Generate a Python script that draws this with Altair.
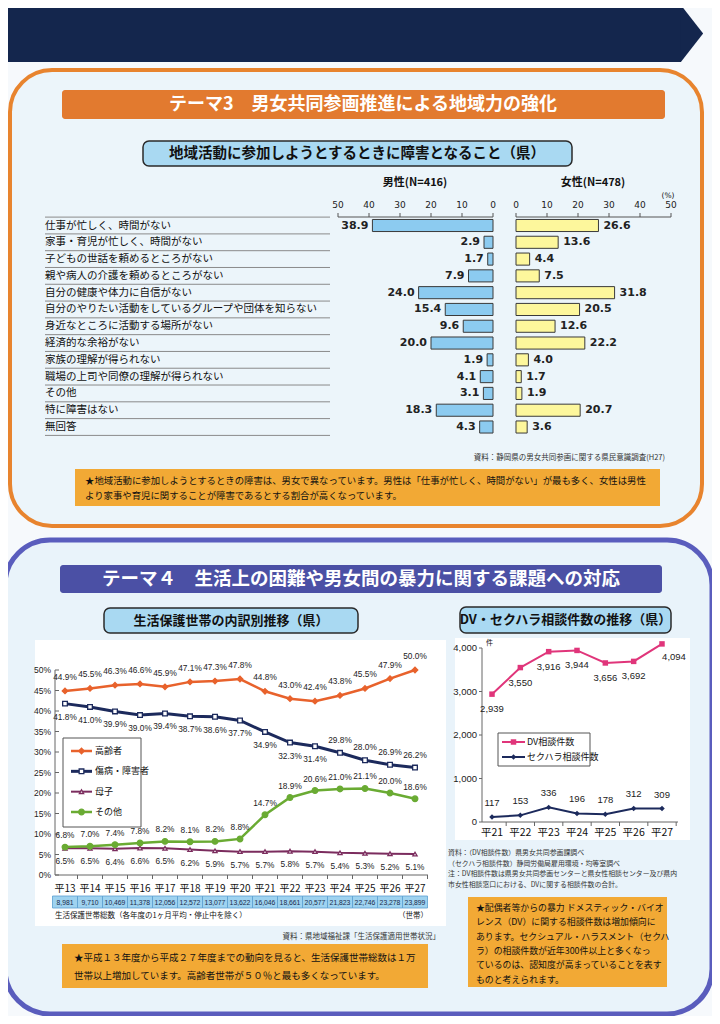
import altair as alt
import pandas as pd

# ---------------- data ----------------
categories = [
    "仕事が忙しく、時間がない",
    "家事・育児が忙しく、時間がない",
    "子どもの世話を頼めるところがない",
    "親や病人の介護を頼めるところがない",
    "自分の健康や体力に自信がない",
    "自分のやりたい活動をしているグループや団体を知らない",
    "身近なところに活動する場所がない",
    "経済的な余裕がない",
    "家族の理解が得られない",
    "職場の上司や同僚の理解が得られない",
    "その他",
    "特に障害はない",
    "無回答",
]
male = [38.9, 2.9, 1.7, 7.9, 24.0, 15.4, 9.6, 20.0, 1.9, 4.1, 3.1, 18.3, 4.3]
female = [26.6, 13.6, 4.4, 7.5, 31.8, 20.5, 12.6, 22.2, 4.0, 1.7, 1.9, 20.7, 3.6]
pct_axis_ticks = [0, 10, 20, 30, 40, 50]

years = ["平13", "平14", "平15", "平16", "平17", "平18", "平19", "平20",
         "平21", "平22", "平23", "平24", "平25", "平26", "平27"]
elderly = [44.9, 45.5, 46.3, 46.6, 45.9, 47.1, 47.3, 47.8, 44.8, 43.0, 42.4, 43.8, 45.5, 47.9, 50.0]
disabled = [41.8, 41.0, 39.9, 39.0, 39.4, 38.7, 38.6, 37.7, 34.9, 32.3, 31.4, 29.8, 28.0, 26.9, 26.2]
single_mother = [6.5, 6.5, 6.4, 6.6, 6.5, 6.2, 5.9, 5.7, 5.7, 5.8, 5.7, 5.4, 5.3, 5.2, 5.1]
others = [6.8, 7.0, 7.4, 7.8, 8.2, 8.1, 8.2, 8.8, 14.7, 18.9, 20.6, 21.0, 21.1, 20.0, 18.6]
households = [8981, 9710, 10469, 11378, 12056, 12572, 13077, 13622, 16046, 18661,
              20577, 21823, 22746, 23278, 23899]
welfare_series = ["高齢者", "傷病・障害者", "母子", "その他"]
pct_ticks = [0, 5, 10, 15, 20, 25, 30, 35, 40, 45, 50]

consult_years = ["平21", "平22", "平23", "平24", "平25", "平26", "平27"]
dv_counts = [2939, 3550, 3916, 3944, 3656, 3692, 4094]
sh_counts = [117, 153, 336, 196, 178, 312, 309]
consult_series = ["DV相談件数", "セクハラ相談件数"]
count_ticks = [0, 1000, 2000, 3000, 4000]

# ---------------- helpers ----------------
def X(v):
    return v - 8


def Y(v):
    return v - 8


JP = "Noto Sans CJK JP"
NUM = "DejaVu Sans"
NARROW = "Liberation Sans"
ONE = pd.DataFrame({"o": [0]})
layers = []


def rect(x1, y1, x2, y2, **kw):
    layers.append(alt.Chart(ONE).mark_rect(**kw).encode(
        x=alt.value(X(x1)), x2=alt.value(X(x2)), y=alt.value(Y(y1)), y2=alt.value(Y(y2))))


def text(t, x, y, **kw):
    kw.setdefault("font", JP)
    kw.setdefault("fill", "#111")
    layers.append(alt.Chart(ONE).mark_text(text=t, **kw).encode(
        x=alt.value(X(x)), y=alt.value(Y(y))))


# ---------------- decorations: banner & theme 3 ----------------
NAVY = "#14264d"
rect(0, 5, 681, 62, fill=NAVY)
layers.append(alt.Chart(ONE).mark_point(
    shape="M-0.39,-1L0.39,0L-0.39,1Z", filled=True, color=NAVY, opacity=1, size=3249
).encode(x=alt.value(X(692)), y=alt.value(Y(33.5))))

rect(10, 70, 702, 526, fill="#ecf5fa", stroke="#e8842e", strokeWidth=4, cornerRadius=42)
rect(62, 90, 665, 119, fill="#e27a2f", cornerRadius=3)
text("テーマ3　男女共同参画推進による地域力の強化", 363, 105, fontSize=18,
     fontWeight="bold", fill="white")
rect(143, 141, 572, 166, fill="#a9d9f2", stroke="#2a2a2a", strokeWidth=1.5, cornerRadius=6)
text("地域活動に参加しようとするときに障害となること（県）", 357, 154, fontSize=14.5,
     fontWeight="bold")

# ---------------- butterfly chart ----------------
bf = pd.DataFrame({"cat": categories, "m": male, "f": female, "i": list(range(len(categories)))})
tk = pd.DataFrame({"t": pct_axis_ticks})
s_male = alt.Scale(domain=[0, 50], range=[X(493), X(338)], nice=False, zero=False)
s_fem = alt.Scale(domain=[0, 50], range=[X(516), X(671)], nice=False, zero=False)
s_row = alt.Scale(domain=[0, 12], range=[Y(225.5), Y(427)], nice=False, zero=False)

text("男性(N=416)", 415, 183, fontSize=11, fontWeight="bold")
text("女性(N=478)", 593, 183, fontSize=11, fontWeight="bold")
text("(%)", 668, 196, fontSize=7.5, font=NUM)

layers.append(alt.Chart(bf).transform_calculate(b="datum.i + 0.5").mark_rule(
    color="#8a8a8a", strokeWidth=1).encode(
    x=alt.value(X(45)), x2=alt.value(X(330)), y=alt.Y("b:Q", scale=s_row, axis=None)))
layers.append(alt.Chart(ONE).mark_rule(color="#8a8a8a", strokeWidth=1).encode(
    x=alt.value(X(45)), x2=alt.value(X(330)), y=alt.Y(datum=-0.5, scale=s_row, axis=None)))
layers.append(alt.Chart(bf).mark_text(align="left", font=JP, fontSize=10.5, fill="#111").encode(
    x=alt.value(X(45)), y=alt.Y("i:Q", scale=s_row, axis=None), text="cat:N"))

for col, sc, fill, align, dx in [("m", s_male, "#8ccbf0", "right", -4),
                                 ("f", s_fem, "#fdf79c", "left", 5)]:
    layers.append(alt.Chart(bf).transform_calculate(
        y0="datum.i - 0.36", y1="datum.i + 0.36").mark_rect(
        fill=fill, stroke="#3a3a3a", strokeWidth=1).encode(
        x=alt.X(f"{col}:Q", scale=sc, axis=None), x2=alt.datum(0),
        y=alt.Y("y0:Q", scale=s_row, axis=None), y2="y1:Q"))
    layers.append(alt.Chart(bf).mark_text(
        align=align, dx=dx, font=NUM, fontWeight="bold", fontSize=11, fill="#222").encode(
        x=alt.X(f"{col}:Q", scale=sc, axis=None), y=alt.Y("i:Q", scale=s_row, axis=None),
        text=alt.Text(f"{col}:Q", format=".1f")))
    layers.append(alt.Chart(ONE).mark_rule(color="#555", strokeWidth=1).encode(
        x=alt.X(datum=0, scale=sc, axis=None), x2=alt.datum(50), y=alt.value(Y(217))))
    layers.append(alt.Chart(tk).mark_rule(color="#555", strokeWidth=1).encode(
        x=alt.X("t:Q", scale=sc, axis=None), y=alt.value(Y(213)), y2=alt.value(Y(217))))
    layers.append(alt.Chart(tk).mark_text(font=NUM, fontSize=9, fill="#222").encode(
        x=alt.X("t:Q", scale=sc, axis=None), y=alt.value(Y(205)), text="t:Q"))

text("資料：静岡県の男女共同参画に関する県民意識調査(H27)", 665, 458, align="right",
     fontSize=7.5, fill="#333")
rect(75, 469, 660, 506, fill="#f2a935")
text("★地域活動に参加しようとするときの障害は、男女で異なっています。男性は「仕事が忙しく、時間がない」が最も多く、女性は男性",
     85, 481, align="left", fontSize=9.4)
text("より家事や育児に関することが障害であるとする割合が高くなっています。",
     85, 496, align="left", fontSize=9.4)

# ---------------- theme 4 ----------------
rect(5, 540, 712, 1014, fill="#e9f3fa", stroke="#5a5dbd", strokeWidth=5, cornerRadius=45)
rect(60, 565, 662, 593, fill="#4b50a5", cornerRadius=3)
text("テーマ４　生活上の困難や男女間の暴力に関する課題への対応", 361, 579, fontSize=18.5,
     fontWeight="bold", fill="white")
rect(104, 608, 358, 633, fill="#a9d9f2", stroke="#2a2a2a", strokeWidth=1.5, cornerRadius=6)
text("生活保護世帯の内訳別推移（県）", 231, 620.5, fontSize=13, fontWeight="bold")
rect(460, 607, 671, 633, fill="#a9d9f2", stroke="#2a2a2a", strokeWidth=1.5, cornerRadius=6)
text("DV・セクハラ相談件数の推移（県）", 565.5, 620, fontSize=13, fontWeight="bold")

rect(35, 640, 446, 926, fill="white")
rect(455, 638, 690, 840, fill="white")

# ---------------- welfare chart ----------------
s_wx = alt.Scale(domain=[0, len(years) - 1], range=[X(65), X(415)], nice=False, zero=False)
s_wy = alt.Scale(domain=[0, 50], range=[Y(875), Y(670)], nice=False, zero=False)
yr = pd.DataFrame({"j": list(range(len(years))), "yr": years, "n": households})
pt = pd.DataFrame({"t": pct_ticks})

layers.append(alt.Chart(ONE).mark_rule(color="#666", strokeWidth=1).encode(
    x=alt.value(X(55)), y=alt.Y(datum=0, scale=s_wy, axis=None), y2=alt.datum(50)))
layers.append(alt.Chart(pt).mark_rule(color="#666", strokeWidth=1).encode(
    x=alt.value(X(55)), x2=alt.value(X(59)), y=alt.Y("t:Q", scale=s_wy, axis=None)))
layers.append(alt.Chart(pt).transform_calculate(lbl="datum.t + '%'").mark_text(
    align="right", font=NARROW, fontSize=8.5, fill="#222").encode(
    x=alt.value(X(51)), y=alt.Y("t:Q", scale=s_wy, axis=None), text="lbl:N"))
layers.append(alt.Chart(ONE).mark_rule(color="#666", strokeWidth=1).encode(
    x=alt.value(X(55)), x2=alt.value(X(428)), y=alt.Y(datum=0, scale=s_wy, axis=None)))
layers.append(alt.Chart(yr).transform_calculate(b="datum.j + 0.5").mark_rule(
    color="#666", strokeWidth=1).encode(
    x=alt.X("b:Q", scale=s_wx, axis=None), y=alt.value(Y(875)), y2=alt.value(Y(879))))
layers.append(alt.Chart(yr).mark_text(font=JP, fontSize=10, fill="#111").encode(
    x=alt.X("j:Q", scale=s_wx, axis=None), y=alt.value(Y(889)), text="yr:N"))
layers.append(alt.Chart(yr).transform_calculate(a="datum.j - 0.5", b="datum.j + 0.5").mark_rect(
    fill="#9fd3f0", stroke="#5a9fd0", strokeWidth=0.8).encode(
    x=alt.X("a:Q", scale=s_wx, axis=None), x2="b:Q", y=alt.value(Y(896)), y2=alt.value(Y(908))))
layers.append(alt.Chart(yr).transform_calculate(lbl="format(datum.n, ',')").mark_text(
    font=NARROW, fontSize=6.8, fill="#1a2a4a").encode(
    x=alt.X("j:Q", scale=s_wx, axis=None), y=alt.value(Y(902.5)), text="lbl:N"))
text("生活保護世帯総数（各年度の1ヶ月平均・停止中を除く）", 55, 916, align="left", fontSize=7.5)
text("（世帯）", 428, 916, align="right", fontSize=7.5)

w_cfg = [
    (welfare_series[0], elderly, "#e8622c", "diamond", True, 2.5, 30),
    (welfare_series[1], disabled, "#1c2a5c", "square", False, 3, 22),
    (welfare_series[2], single_mother, "#7b2c5e", "triangle-up", False, 2, 18),
    (welfare_series[3], others, "#6aab33", "circle", True, 2.5, 32),
]
lab_kw = dict(font=NARROW, fontSize=8.3, fill="#222")
for name, vals, color, shape, filled, lw, sz in w_cfg:
    df = pd.DataFrame({"j": list(range(len(vals))), "v": vals})
    enc = dict(x=alt.X("j:Q", scale=s_wx, axis=None), y=alt.Y("v:Q", scale=s_wy, axis=None))
    layers.append(alt.Chart(df).mark_line(color=color, strokeWidth=lw).encode(**enc))
    layers.append(alt.Chart(df).mark_point(
        shape=shape, size=sz, filled=True, opacity=1,
        fill=color if filled else "white", stroke=color, strokeWidth=1.3).encode(**enc))
    lab = alt.Chart(df).transform_calculate(lbl="format(datum.v, '.1f') + '%'")
    if name == welfare_series[0]:
        layers.append(lab.mark_text(dy=-13, **lab_kw).encode(text="lbl:N", **enc))
    elif name == welfare_series[1]:
        layers.append(lab.transform_filter("datum.j < 11").mark_text(dy=14, **lab_kw).encode(
            text="lbl:N", **enc))
        layers.append(lab.transform_filter("datum.j >= 11").mark_text(dy=-12, **lab_kw).encode(
            text="lbl:N", **enc))
    elif name == welfare_series[2]:
        layers.append(lab.mark_text(dy=14, **lab_kw).encode(text="lbl:N", **enc))
    else:
        layers.append(lab.mark_text(dy=-11, **lab_kw).encode(text="lbl:N", **enc))

rect(63, 738, 141, 827, fill="white", stroke="#555", strokeWidth=1)
s_leg1 = alt.Scale(domain=[0, 3], range=[Y(751), Y(812)], nice=False, zero=False)
for k, (name, vals, color, shape, filled, lw, sz) in enumerate(w_cfg):
    ld = pd.DataFrame({"k": [k], "s": [name]})
    ly = alt.Y("k:Q", scale=s_leg1, axis=None)
    layers.append(alt.Chart(ld).mark_rule(color=color, strokeWidth=lw).encode(
        x=alt.value(X(71)), x2=alt.value(X(92)), y=ly))
    layers.append(alt.Chart(ld).mark_point(
        shape=shape, size=sz, filled=True, opacity=1,
        fill=color if filled else "white", stroke=color, strokeWidth=1.3).encode(
        x=alt.value(X(81.5)), y=ly))
    layers.append(alt.Chart(ld).mark_text(align="left", font=JP, fontSize=9, fill="#111").encode(
        x=alt.value(X(95)), y=ly, text="s:N"))

text("資料：県地域福祉課「生活保護適用世帯状況」", 440, 937, align="right", fontSize=7.5, fill="#333")
rect(62, 944, 428, 988, fill="#f2a935")
text("★平成１３年度から平成２７年度までの動向を見ると、生活保護世帯総数は１万", 74, 958,
     align="left", fontSize=9.5)
text("世帯以上増加しています。高齢者世帯が５０％と最も多くなっています。", 74, 976,
     align="left", fontSize=9.5)

# ---------------- consultation chart ----------------
s_cx = alt.Scale(domain=[0, len(consult_years) - 1], range=[X(492), X(662)], nice=False, zero=False)
s_cy = alt.Scale(domain=[0, 4000], range=[Y(822), Y(648)], nice=False, zero=False)
cy = pd.DataFrame({"j": list(range(len(consult_years))), "yr": consult_years})
ct = pd.DataFrame({"t": count_ticks})

layers.append(alt.Chart(ONE).mark_rule(color="#666", strokeWidth=1).encode(
    x=alt.value(X(482)), y=alt.Y(datum=0, scale=s_cy, axis=None), y2=alt.datum(4000)))
layers.append(alt.Chart(ct).mark_rule(color="#666", strokeWidth=1).encode(
    x=alt.value(X(479)), x2=alt.value(X(482)), y=alt.Y("t:Q", scale=s_cy, axis=None)))
layers.append(alt.Chart(ct).transform_calculate(lbl="format(datum.t, ',')").mark_text(
    align="right", font=NARROW, fontSize=9.5, fill="#222").encode(
    x=alt.value(X(477)), y=alt.Y("t:Q", scale=s_cy, axis=None), text="lbl:N"))
text("件", 486, 643, fontSize=7, align="left")
layers.append(alt.Chart(ONE).mark_rule(color="#666", strokeWidth=1).encode(
    x=alt.value(X(482)), x2=alt.value(X(678)), y=alt.Y(datum=0, scale=s_cy, axis=None)))
layers.append(alt.Chart(cy).transform_calculate(b="datum.j + 0.5").mark_rule(
    color="#666", strokeWidth=1).encode(
    x=alt.X("b:Q", scale=s_cx, axis=None), y=alt.value(Y(822)), y2=alt.value(Y(826))))
layers.append(alt.Chart(cy).mark_text(font=JP, fontSize=10.5, fill="#111").encode(
    x=alt.X("j:Q", scale=s_cx, axis=None), y=alt.value(Y(833)), text="yr:N"))

c_cfg = [
    (consult_series[0], dv_counts, "#e0357a", "square", 30),
    (consult_series[1], sh_counts, "#1c2a5c", "diamond", 30),
]
for name, vals, color, shape, sz in c_cfg:
    df = pd.DataFrame({"j": list(range(len(vals))), "v": vals})
    enc = dict(x=alt.X("j:Q", scale=s_cx, axis=None), y=alt.Y("v:Q", scale=s_cy, axis=None))
    layers.append(alt.Chart(df).mark_line(color=color, strokeWidth=2).encode(**enc))
    layers.append(alt.Chart(df).mark_point(shape=shape, size=sz, filled=True, opacity=1,
                                           color=color).encode(**enc))
    lab = alt.Chart(df).transform_calculate(lbl="format(datum.v, ',')")
    lk = dict(font=NARROW, fontSize=9.5, fill="#222")
    if name == consult_series[0]:
        layers.append(lab.transform_filter("datum.j < 6").mark_text(dy=15, **lk).encode(
            text="lbl:N", **enc))
        layers.append(lab.transform_filter("datum.j >= 6").mark_text(dy=13, dx=12, **lk).encode(
            text="lbl:N", **enc))
    else:
        layers.append(lab.mark_text(dy=-14, **lk).encode(text="lbl:N", **enc))

rect(498, 733, 590, 766, fill="white", stroke="#555", strokeWidth=1)
s_leg2 = alt.Scale(domain=[0, 1], range=[Y(742), Y(757)], nice=False, zero=False)
for k, (name, vals, color, shape, sz) in enumerate(c_cfg):
    ld = pd.DataFrame({"k": [k], "s": [name]})
    ly = alt.Y("k:Q", scale=s_leg2, axis=None)
    layers.append(alt.Chart(ld).mark_rule(color=color, strokeWidth=2).encode(
        x=alt.value(X(502)), x2=alt.value(X(525)), y=ly))
    layers.append(alt.Chart(ld).mark_point(shape=shape, size=sz, filled=True, opacity=1,
                                           color=color).encode(x=alt.value(X(513.5)), y=ly))
    layers.append(alt.Chart(ld).mark_text(align="left", font=JP, fontSize=9, fill="#111").encode(
        x=alt.value(X(527)), y=ly, text="s:N"))

for i, line in enumerate([
    "資料：（DV相談件数）県男女共同参画課調べ",
    "（セクハラ相談件数）静岡労働局雇用環境・均等室調べ",
    "注：DV相談件数は県男女共同参画センターと県女性相談センター及び県内",
    "市女性相談窓口における、DVに関する相談件数の合計。",
]):
    text(line, 448, 853 + i * 10.5, align="left", fontSize=6.9, fill="#333")

rect(468, 897, 667, 987, fill="#f2a935")
for i, line in enumerate([
    "★配偶者等からの暴力 ドメスティック・バイオ",
    "レンス（DV）に関する相談件数は増加傾向に",
    "あります。セクシュアル・ハラスメント（セクハ",
    "ラ）の相談件数が近年300件以上と多くなっ",
    "ているのは、認知度が高まっていることを表す",
    "ものと考えられます。",
]):
    text(line, 476, 908 + i * 14.3, align="left", fontSize=8.9)

chart = alt.layer(*layers).resolve_scale(
    x="independent", y="independent"
).properties(
    width=704, height=1008, padding=0,
    autosize=alt.AutoSizeParams(type="none"),
    background="#f6f9fc",
).configure_view(strokeWidth=0)

chart.save("out.html", embed_options={"renderer": "svg", "actions": False})
